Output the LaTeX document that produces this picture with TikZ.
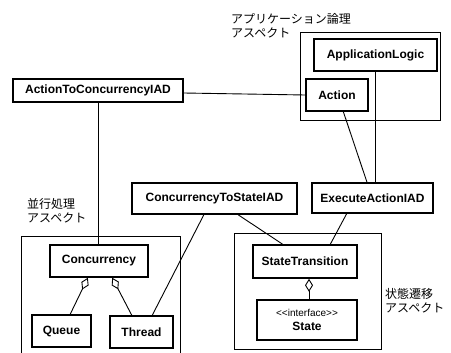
\documentclass[tikz,border=0pt]{standalone}
\usepackage{fontspec}
\setmainfont{Liberation Sans}
\newfontfamily\jp{Noto Sans CJK JP}
\usetikzlibrary{calc,arrows.meta}

\tikzset{
  cls/.style={draw, line width=1.6pt, fill=white, inner sep=0pt,
    font=\fontsize{12}{13.5}\selectfont\bfseries},
  aspect/.style={draw, line width=0.9pt},
  link/.style={line width=0.9pt},
  agg/.style={line width=0.9pt, {Diamond[open, length=13pt, width=8pt, line width=0.9pt]}-},
  jplabel/.style={font=\jp\fontsize{12}{14}\selectfont, align=left, inner sep=0pt}
}

\begin{document}
\begin{tikzpicture}[x=1pt, y=-1pt]
  \useasboundingbox[fill=white] (0,0) rectangle (451,353);

  % aspect frames
  \draw[aspect] (300,32) rectangle (440,120);
  \draw[aspect] (21,353) -- (21,236) -- (180,236) -- (180,353);
  \draw[aspect] (234,233) rectangle (381,349);

  % aspect captions
  \node[jplabel, anchor=north west] (capApp) at (231,13) {アプリケーション論理\\アスペクト};
  \node[jplabel, anchor=north west] (capConc) at (27,198) {並行処理\\アスペクト};
  \node[jplabel, anchor=north west] (capState) at (385,288) {状態遷移\\アスペクト};

  % classes
  \node[cls, minimum width=123pt, minimum height=32pt] (al) at (375.5,55) {ApplicationLogic};
  \node[cls, minimum width=62pt, minimum height=32pt] (action) at (337,95) {Action};
  \node[cls, minimum width=170pt, minimum height=23pt] (atc) at (98,90.5) {ActionToConcurrencyIAD};
  \node[cls, minimum width=121pt, minimum height=30pt] (eai) at (372.5,198) {ExecuteActionIAD};
  \node[cls, minimum width=165pt, minimum height=31pt] (cts) at (214.5,198.5) {ConcurrencyToStateIAD};
  \node[cls, minimum width=98pt, minimum height=32pt] (conc) at (99,261) {Concurrency};
  \node[cls, minimum width=59pt, minimum height=32pt] (queue) at (61.5,331) {Queue};
  \node[cls, minimum width=63pt, minimum height=32pt] (thread) at (141.5,332) {Thread};
  \node[cls, minimum width=104pt, minimum height=33pt] (st) at (305,261.5) {StateTransition};
  \node[cls, minimum width=100pt, minimum height=40pt, align=center] (state) at (307,320)
    {{\mdseries\fontsize{10}{12}\selectfont <{}<interface>{}>}\\State};

  % connectors
  \draw[link] ($(atc.east)+(0,2.5)$) -- (action.west);
  \draw[link] (atc.south) -- (atc.south |- conc.north);
  \draw[link] (al.south) -- (al.south |- eai.north);
  \draw[link] ($(action.south west)!0.6!(action.south east)$) -- ($(eai.north west)!0.455!(eai.north east)$);
  \draw[link] ($(cts.south west)!0.436!(cts.south east)$) -- ($(thread.north west)!0.667!(thread.north east)$);
  \draw[link] ($(cts.south west)!0.642!(cts.south east)$) -- ($(st.north west)!0.288!(st.north east)$);
  \draw[link] ($(eai.south west)!0.289!(eai.south east)$) -- ($(st.north west)!0.74!(st.north east)$);

  % aggregations
  \draw[agg] ($(conc.south west)!0.388!(conc.south east)$) -- ($(queue.north west)!0.644!(queue.north east)$);
  \draw[agg] ($(conc.south west)!0.633!(conc.south east)$) -- ($(thread.north west)!0.349!(thread.north east)$);
  \coordinate (stagg) at ($(st.south west)!0.538!(st.south east)$);
  \draw[agg] (stagg) -- (stagg |- state.north);
\end{tikzpicture}
\end{document}
